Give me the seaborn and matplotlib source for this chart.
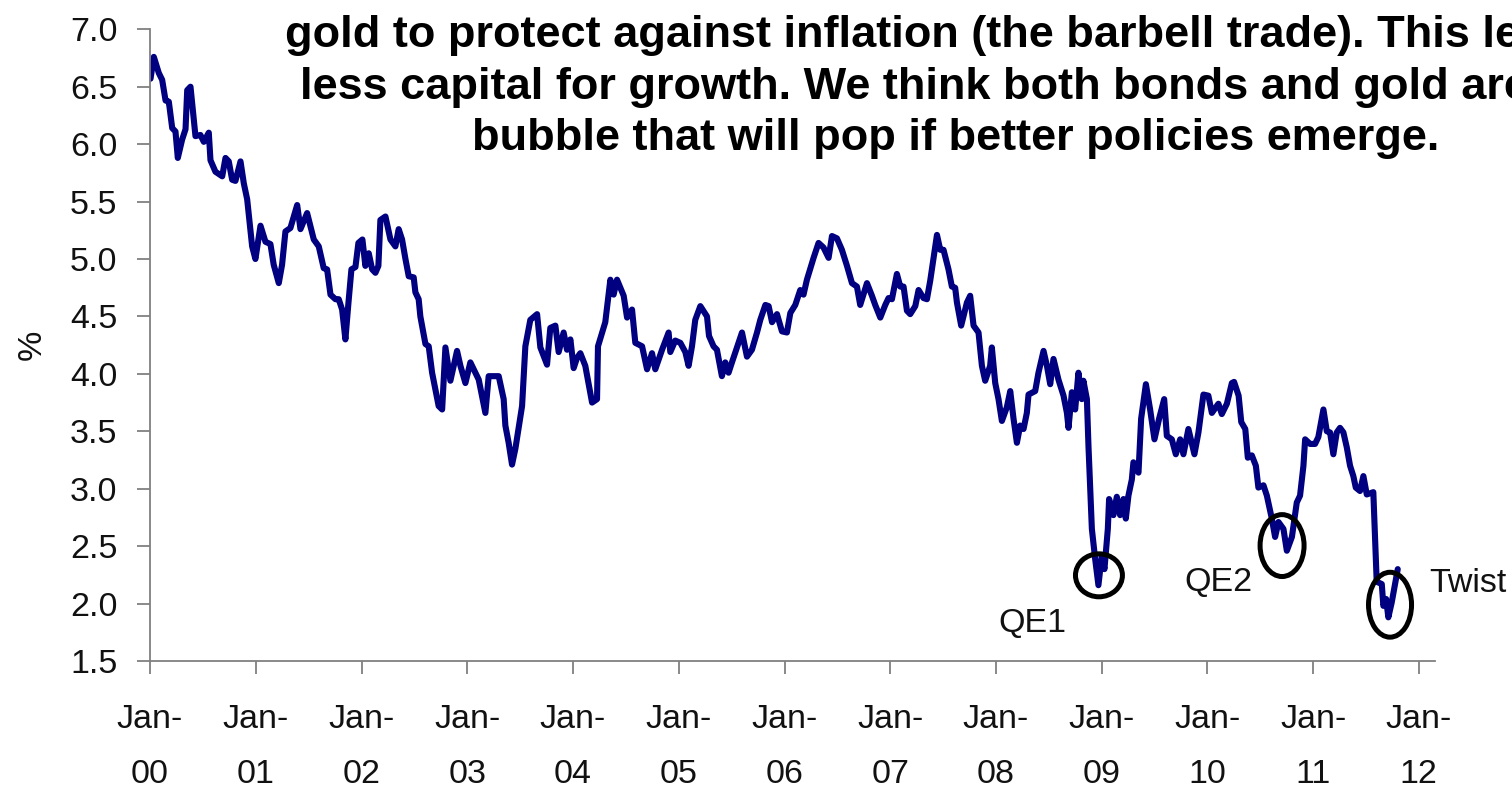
import numpy as np
import pandas as pd
import matplotlib
matplotlib.use("Agg")
import matplotlib.pyplot as plt
import matplotlib.dates as mdates
from matplotlib import font_manager
from matplotlib.patches import Ellipse
import seaborn as sns

# ---- data: 10-year Treasury yield (%) ---------------------------------
decimal_year = [
    2000.005, 2000.036, 2000.083, 2000.115, 2000.147, 2000.178, 2000.210, 2000.241,
    2000.263, 2000.304, 2000.336, 2000.352, 2000.383, 2000.430, 2000.477, 2000.509,
    2000.556, 2000.572, 2000.619, 2000.683, 2000.714, 2000.745, 2000.777, 2000.808,
    2000.856, 2000.887, 2000.919, 2000.966, 2000.997, 2001.045, 2001.092, 2001.139,
    2001.170, 2001.218, 2001.249, 2001.281, 2001.328, 2001.392, 2001.423, 2001.486,
    2001.549, 2001.596, 2001.643, 2001.675, 2001.707, 2001.754, 2001.785, 2001.817,
    2001.848, 2001.877, 2001.905, 2001.943, 2001.971, 2002.009, 2002.037, 2002.069,
    2002.101, 2002.132, 2002.160, 2002.179, 2002.227, 2002.274, 2002.321, 2002.352,
    2002.384, 2002.416, 2002.447, 2002.494, 2002.510, 2002.541, 2002.557, 2002.605,
    2002.636, 2002.668, 2002.730, 2002.763, 2002.794, 2002.841, 2002.904, 2002.936,
    2002.983, 2003.030, 2003.077, 2003.109, 2003.172, 2003.203, 2003.250, 2003.298,
    2003.345, 2003.361, 2003.392, 2003.424, 2003.456, 2003.519, 2003.550, 2003.597,
    2003.661, 2003.692, 2003.755, 2003.786, 2003.834, 2003.865, 2003.912, 2003.944,
    2003.976, 2004.007, 2004.039, 2004.070, 2004.117, 2004.181, 2004.228, 2004.237,
    2004.306, 2004.354, 2004.385, 2004.417, 2004.480, 2004.512, 2004.559, 2004.590,
    2004.654, 2004.701, 2004.748, 2004.779, 2004.843, 2004.905, 2004.921, 2004.968,
    2005.016, 2005.063, 2005.094, 2005.126, 2005.157, 2005.205, 2005.268, 2005.287,
    2005.330, 2005.362, 2005.409, 2005.441, 2005.472, 2005.504, 2005.552, 2005.599,
    2005.646, 2005.693, 2005.741, 2005.772, 2005.820, 2005.851, 2005.883, 2005.930,
    2005.977, 2006.024, 2006.056, 2006.103, 2006.150, 2006.181, 2006.213, 2006.276,
    2006.323, 2006.370, 2006.418, 2006.450, 2006.497, 2006.544, 2006.592, 2006.639,
    2006.686, 2006.717, 2006.781, 2006.828, 2006.859, 2006.907, 2006.954, 2006.985,
    2007.017, 2007.064, 2007.096, 2007.127, 2007.159, 2007.190, 2007.238, 2007.269,
    2007.316, 2007.348, 2007.379, 2007.443, 2007.474, 2007.505, 2007.552, 2007.584,
    2007.615, 2007.632, 2007.672, 2007.726, 2007.757, 2007.789, 2007.836, 2007.868,
    2007.899, 2007.946, 2007.962, 2007.994, 2008.025, 2008.057, 2008.104, 2008.136,
    2008.167, 2008.199, 2008.230, 2008.262, 2008.293, 2008.309, 2008.372, 2008.403,
    2008.451, 2008.483, 2008.514, 2008.545, 2008.592, 2008.640, 2008.672, 2008.687,
    2008.719, 2008.750, 2008.781, 2008.813, 2008.828, 2008.861, 2008.876, 2008.908,
    2008.939, 2008.970, 2009.002, 2009.027, 2009.059, 2009.071, 2009.112, 2009.144,
    2009.175, 2009.207, 2009.229, 2009.254, 2009.286, 2009.301, 2009.349, 2009.374,
    2009.419, 2009.459, 2009.500, 2009.544, 2009.592, 2009.617, 2009.664, 2009.702,
    2009.743, 2009.774, 2009.821, 2009.878, 2009.916, 2009.963, 2010.010, 2010.043,
    2010.105, 2010.137, 2010.185, 2010.232, 2010.253, 2010.296, 2010.321, 2010.359,
    2010.383, 2010.421, 2010.459, 2010.483, 2010.531, 2010.563, 2010.610, 2010.641,
    2010.673, 2010.720, 2010.752, 2010.800, 2010.846, 2010.877, 2010.909, 2010.925,
    2010.972, 2011.019, 2011.050, 2011.098, 2011.130, 2011.161, 2011.192, 2011.224,
    2011.255, 2011.287, 2011.319, 2011.350, 2011.381, 2011.404, 2011.444, 2011.476,
    2011.508, 2011.570, 2011.602, 2011.650, 2011.665, 2011.691, 2011.712, 2011.744,
    2011.801,
]

yield_pct = [
    6.57, 6.76, 6.62, 6.56, 6.38, 6.37, 6.14, 6.11,
    5.88, 6.04, 6.13, 6.47, 6.50, 6.07, 6.08, 6.02,
    6.10, 5.86, 5.76, 5.72, 5.88, 5.85, 5.69, 5.68,
    5.85, 5.66, 5.52, 5.11, 5.00, 5.29, 5.15, 5.13,
    4.95, 4.79, 4.95, 5.24, 5.27, 5.47, 5.26, 5.40,
    5.17, 5.11, 4.92, 4.91, 4.69, 4.65, 4.65, 4.56,
    4.30, 4.62, 4.91, 4.93, 5.14, 5.17, 4.94, 5.05,
    4.91, 4.88, 4.94, 5.34, 5.37, 5.17, 5.11, 5.26,
    5.17, 5.00, 4.85, 4.84, 4.71, 4.65, 4.50, 4.26,
    4.24, 4.01, 3.72, 3.69, 4.23, 3.94, 4.20, 4.07,
    3.92, 4.10, 4.01, 3.95, 3.66, 3.98, 3.98, 3.98,
    3.78, 3.55, 3.40, 3.21, 3.35, 3.72, 4.24, 4.47,
    4.52, 4.23, 4.08, 4.40, 4.42, 4.19, 4.36, 4.21,
    4.30, 4.05, 4.14, 4.18, 4.07, 3.75, 3.78, 4.24,
    4.45, 4.82, 4.69, 4.82, 4.68, 4.49, 4.56, 4.27,
    4.24, 4.04, 4.18, 4.04, 4.21, 4.36, 4.19, 4.29,
    4.27, 4.19, 4.07, 4.24, 4.47, 4.59, 4.50, 4.33,
    4.24, 4.21, 3.98, 4.10, 4.01, 4.10, 4.23, 4.36,
    4.15, 4.21, 4.36, 4.47, 4.60, 4.59, 4.45, 4.52,
    4.37, 4.36, 4.53, 4.60, 4.73, 4.69, 4.82, 5.01,
    5.14, 5.10, 5.01, 5.20, 5.18, 5.08, 4.94, 4.79,
    4.76, 4.60, 4.79, 4.68, 4.60, 4.49, 4.60, 4.66,
    4.65, 4.87, 4.76, 4.76, 4.55, 4.52, 4.59, 4.73,
    4.66, 4.65, 4.81, 5.21, 5.08, 5.08, 4.91, 4.76,
    4.75, 4.62, 4.42, 4.62, 4.68, 4.42, 4.36, 4.07,
    3.94, 4.07, 4.23, 3.92, 3.78, 3.59, 3.71, 3.85,
    3.61, 3.40, 3.55, 3.52, 3.66, 3.82, 3.85, 4.01,
    4.20, 4.07, 3.91, 4.13, 3.95, 3.81, 3.66, 3.53,
    3.84, 3.69, 4.01, 3.78, 3.94, 3.78, 3.37, 2.65,
    2.39, 2.16, 2.42, 2.30, 2.65, 2.91, 2.77, 2.93,
    2.77, 2.91, 2.74, 2.94, 3.08, 3.23, 3.14, 3.61,
    3.91, 3.69, 3.43, 3.61, 3.78, 3.46, 3.43, 3.30,
    3.43, 3.30, 3.52, 3.30, 3.49, 3.82, 3.81, 3.66,
    3.74, 3.65, 3.74, 3.92, 3.93, 3.81, 3.58, 3.52,
    3.27, 3.29, 3.20, 3.01, 3.03, 2.94, 2.74, 2.58,
    2.71, 2.65, 2.46, 2.58, 2.88, 2.94, 3.20, 3.43,
    3.39, 3.39, 3.45, 3.69, 3.50, 3.49, 3.30, 3.49,
    3.53, 3.49, 3.36, 3.20, 3.11, 3.01, 2.98, 3.11,
    2.95, 2.97, 2.19, 2.17, 1.98, 2.04, 1.88, 2.01,
    2.30,
]

tick_years = list(range(2000, 2013))
tick_labels = [f"Jan-\n{y % 100:02d}" for y in tick_years]
ytick_values = [1.5, 2.0, 2.5, 3.0, 3.5, 4.0, 4.5, 5.0, 5.5, 6.0, 6.5, 7.0]

event_names = ["QE1", "QE2", "Twist"]

commentary = [
    "gold to protect against inflation (the barbell trade). This leaves",
    "less capital for growth. We think both bonds and gold are",
    "bubble that will pop if better policies emerge.",
]

# ---- helpers ------------------------------------------------------------
def to_timestamp(dy):
    dy = np.asarray(dy, dtype=float)
    return pd.Timestamp("2000-01-01") + pd.to_timedelta((dy - 2000.0) * 365.25, unit="D")

df = pd.DataFrame({"date": to_timestamp(decimal_year), "yield": yield_pct})

sns.set_theme(style="white")
available = {f.name for f in font_manager.fontManager.ttflist}
narrow = next((f for f in ["Liberation Sans Narrow", "DejaVu Sans Condensed",
                           "Liberation Sans"] if f in available), "DejaVu Sans")
plt.rcParams["font.family"] = [narrow, "DejaVu Sans"]

LABEL_SIZE = 24.5
INK = "#111111"

W, H = 1512, 788
fig = plt.figure(figsize=(W / 100, H / 100), dpi=100)
fig.patch.set_facecolor("white")
ax = fig.add_axes([150 / W, 1 - 661 / H, (1435 - 150) / W, (661 - 29.3) / H])
ax.set_facecolor("white")

sns.lineplot(data=df, x="date", y="yield", color="#000080", linewidth=4.4,
             ax=ax, sort=False, estimator=None)

ax.set_xlim(pd.Timestamp("2000-01-01"), pd.Timestamp("2012-02-26"))
ax.set_ylim(1.5, 7.0)

ax.set_xticks([pd.Timestamp(f"{y}-01-01") for y in tick_years])
ax.set_xticklabels(tick_labels, fontsize=LABEL_SIZE, linespacing=2.0)
ax.set_yticks(ytick_values)
ax.set_yticklabels([f"{v:.1f}" for v in ytick_values], fontsize=LABEL_SIZE)

for side in ["top", "right"]:
    ax.spines[side].set_visible(False)
for side in ["left", "bottom"]:
    ax.spines[side].set_color("#808080")
    ax.spines[side].set_linewidth(1.3)
ax.tick_params(axis="y", direction="out", length=9.5, width=1.3, color="#808080",
               pad=14, labelcolor=INK, left=True)
ax.tick_params(axis="x", direction="out", length=9, width=1.3, color="#808080",
               pad=22, labelcolor=INK, bottom=True)
ax.grid(False)

ax.set_xlabel("")
ax.set_ylabel("%", fontsize=LABEL_SIZE, color=INK)
ax.yaxis.set_label_coords((48 - 150) / (1435 - 150), 0.5)

# ---- circled events -------------------------------------------------------
def ellipse_at(year, value, w_years, h_value):
    cx = mdates.date2num(to_timestamp([year])[0])
    e = Ellipse((cx, value), width=w_years * 365.25, height=h_value,
                fill=False, edgecolor="black", linewidth=3.6, zorder=5)
    ax.add_patch(e)

ellipse_at(2008.975, 2.246, 0.444, 0.374)
ellipse_at(2010.707, 2.505, 0.416, 0.539)
ellipse_at(2011.728, 1.990, 0.407, 0.565)

label_pos = [(2008.344, 1.824), (2010.101, 2.181), (2012.466, 2.172)]
for name, (yr, val) in zip(event_names, label_pos):
    ax.text(mdates.date2num(to_timestamp([yr])[0]), val, name, fontsize=LABEL_SIZE,
            ha="center", va="center", color=INK, clip_on=False)

# ---- commentary block -----------------------------------------------------
renderer = fig.canvas.get_renderer()
probe = fig.text(0, 0, commentary[2], fontsize=30, fontweight="bold",
                 family=[narrow, "DejaVu Sans"])
probe_w = probe.get_window_extent(renderer).width
probe.remove()
title_size = 30 * 968 / probe_w

starts = [285, 300, 472]
baselines = [47, 98.5, 150]
for line, x0, yb in zip(commentary, starts, baselines):
    fig.text(x0 / W, 1 - yb / H, line, fontsize=title_size, fontweight="bold",
             family=[narrow, "DejaVu Sans"], ha="left", va="baseline", color="black")

fig.savefig("out.png", dpi=100)
